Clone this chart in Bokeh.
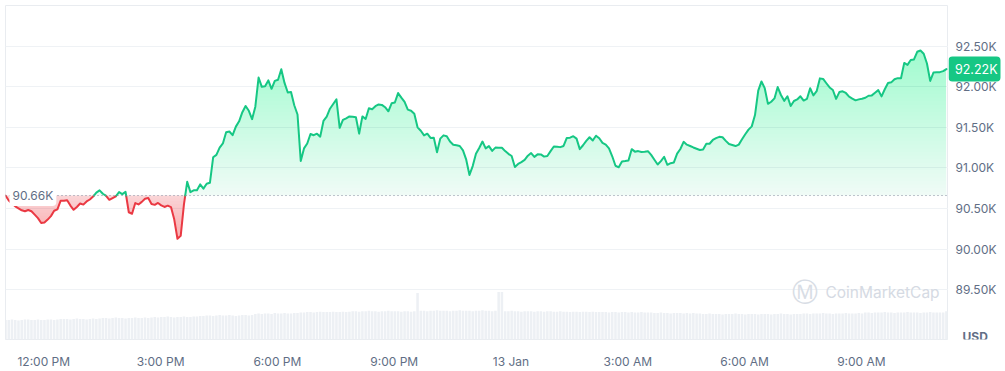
import numpy as np
from bokeh.plotting import figure
from bokeh.layouts import row
from bokeh.models import Range1d, FixedTicker, Span, Label, Grid
from bokeh.core.properties import value
from bokeh.embed import file_html
from bokeh.resources import INLINE

# ---------------- data ----------------
start_hour = 11 + 1 / 60          # 12 Jan, 11:01 (hours since 12 Jan 00:00)
step_hours = 5 / 60               # 5-minute samples
open_price = 90660
last_price = 92220

prices = [
    90660, 90599, 90563, 90527, 90502, 90478, 90466, 90482, 90466, 90424,   # 0
    90381, 90321, 90327, 90363, 90406, 90472, 90490, 90596, 90596, 90603,   # 10
    90536, 90484, 90519, 90561, 90548, 90587, 90611, 90648, 90696, 90724,   # 20
    90682, 90656, 90607, 90628, 90649, 90703, 90677, 90705, 90454, 90435,   # 30
    90567, 90550, 90582, 90621, 90630, 90555, 90545, 90568, 90538, 90519,   # 40
    90535, 90517, 90366, 90127, 90163, 90551, 90829, 90702, 90724, 90724,   # 50
    90797, 90745, 90805, 90817, 91132, 91162, 91251, 91302, 91441, 91450,   # 60
    91404, 91510, 91575, 91688, 91765, 91705, 91602, 91756, 92116, 92001,   # 70
    92009, 92080, 91976, 92074, 92088, 92218, 92049, 91931, 91937, 91774,   # 80
    91659, 91087, 91241, 91302, 91419, 91404, 91423, 91386, 91580, 91634,   # 90
    91731, 91789, 91846, 91495, 91592, 91613, 91636, 91632, 91626, 91423,   # 100
    91636, 91604, 91737, 91725, 91762, 91783, 91778, 91749, 91699, 91798,   # 110
    91808, 91924, 91867, 91814, 91719, 91706, 91668, 91501, 91459, 91402,   # 120
    91423, 91371, 91374, 91193, 91362, 91402, 91392, 91326, 91287, 91281,   # 130
    91271, 91217, 91102, 90914, 91023, 91174, 91247, 91326, 91241, 91269,   # 140
    91211, 91251, 91249, 91249, 91208, 91174, 91147, 91011, 91049, 91072,   # 150
    91099, 91151, 91184, 91137, 91168, 91167, 91140, 91148, 91207, 91265,   # 160
    91262, 91257, 91271, 91371, 91374, 91392, 91362, 91232, 91280, 91334,   # 170
    91379, 91338, 91398, 91366, 91309, 91288, 91241, 91144, 91027, 91008,   # 180
    91080, 91086, 91093, 91232, 91201, 91208, 91196, 91199, 91207, 91161,   # 190
    91102, 91042, 91084, 91138, 91039, 91059, 91068, 91177, 91234, 91322,   # 200
    91287, 91271, 91253, 91237, 91222, 91229, 91299, 91299, 91345, 91368,   # 210
    91384, 91379, 91334, 91295, 91283, 91270, 91288, 91353, 91416, 91473,   # 220
    91513, 91653, 91955, 92067, 91984, 91791, 91817, 91858, 91998, 91900,   # 230
    91828, 91885, 91765, 91826, 91845, 91884, 91831, 91851, 91983, 91895,   # 240
    91947, 92105, 92098, 92045, 91993, 91962, 91852, 91936, 91946, 91925,   # 250
    91879, 91855, 91834, 91846, 91854, 91866, 91891, 91895, 91927, 91960,   # 260
    91883, 91971, 92049, 92056, 92094, 92108, 92107, 92296, 92272, 92331,   # 270
    92339, 92433, 92449, 92409, 92288, 92074, 92177, 92180, 92182, 92194,   # 280
    92220,                                                                  # 290
]

# traded volume per 5-minute bar (USD millions)
volume = [
    40, 40, 41, 40, 39, 40, 41, 41, 40, 40, 41, 40, 40, 41, 41, 40, 41, 42,
    42, 42, 41, 42, 43, 42, 42, 41, 42, 43, 42, 43,
    44, 44, 43, 44, 45, 44, 44, 43, 44, 44, 45, 44, 44, 45, 44, 45,
    46, 45, 46, 46, 47, 46, 45, 46, 46, 47, 46, 46, 47, 47, 48,
    48, 49, 49, 48, 49, 50, 49, 49, 50, 49, 48, 49, 50, 50, 49, 50,
    52, 53, 52, 53, 53, 52, 54, 53, 53, 54, 53, 53, 54, 54, 55,
    55, 56, 56, 55, 56, 57, 56, 56, 56, 57, 56, 56, 57, 56, 57,
    58, 58, 57, 58, 58, 59, 58, 58, 57, 58, 58, 59, 58, 58, 58, 57, 58, 58, 57, 58,
    95,
    59, 59, 58, 59, 59, 60, 59, 59, 59, 58, 59, 59, 60, 59, 59, 59, 58, 59, 59, 60, 59, 59, 58, 59,
    97, 97,
    58, 58, 59, 58, 58, 57, 58, 58, 58, 57, 58, 58, 57, 58, 58, 57, 57, 58,
    57, 57, 56, 57, 57, 56, 57, 57, 56, 57, 56, 56,
    56, 56, 55, 56, 56, 55, 56, 56, 55, 56, 55, 55, 56, 55, 55, 55,
    54, 54, 55, 54, 54, 53, 54, 54, 54, 53, 54, 53, 54, 53, 53,
    52, 52, 53, 52, 52, 52, 51, 52, 52, 52, 53, 52, 52, 51, 52, 52, 52, 51, 52,
    52, 52, 51, 52, 52, 53, 52, 52, 51, 52, 52, 52,
    53, 53, 52, 53, 53, 53, 54, 53, 53, 52, 53, 53, 53, 54, 53, 53, 53, 54, 53,
    55, 55, 54, 55, 55, 55, 56, 55, 55, 54, 55, 55, 55, 56, 55, 55, 55, 54, 55, 55, 56, 55, 55, 55, 55,
    58,
]

y_ticks = [89500, 90000, 90500, 91000, 91500, 92000, 92500]
y_tick_labels = ["89.50K", "90.00K", "90.50K", "91.00K", "91.50K", "92.00K", "92.50K"]
x_ticks = [12, 15, 18, 21, 24, 27, 30, 33]
x_tick_labels = ["12:00 PM", "3:00 PM", "6:00 PM", "9:00 PM", "13 Jan",
                 "3:00 AM", "6:00 AM", "9:00 AM"]

# ---------------- styling ----------------
GREEN = "#16c784"
RED = "#ea3943"
AXIS_TEXT = "#616e85"
FONT = "Inter"

t = start_hour + np.arange(len(prices)) * step_hours
p_arr = np.array(prices, dtype=float)
vt = start_hour + np.arange(len(volume)) * step_hours

x_end = start_hour + 24.22
y_range = Range1d(88884, 93004)
fig = figure(width=948, height=371, output_backend="svg", toolbar_location=None,
             x_range=Range1d(start_hour, x_end), y_range=y_range,
             y_axis_location=None,
             min_border_left=5, min_border_right=0, min_border_top=5, min_border_bottom=25)
fig.background_fill_color = "white"
fig.border_fill_color = "white"
fig.outline_line_color = "#e9ecf0"
fig.outline_line_width = 1

fig.extra_y_ranges = {"vol": Range1d(0, 683)}

xax = fig.xaxis[0]
xax.ticker = FixedTicker(ticks=x_ticks)
xax.major_label_overrides = {k: v for k, v in zip(x_ticks, x_tick_labels)}
xax.axis_line_color = None
xax.major_tick_line_color = None
xax.minor_tick_line_color = None
xax.major_label_standoff = 8
xax.major_label_text_font = FONT
xax.major_label_text_font_size = "12px"
xax.major_label_text_color = AXIS_TEXT

fig.xgrid.grid_line_color = None
for g in fig.ygrid:
    g.grid_line_color = None
fig.add_layout(Grid(dimension=1, ticker=FixedTicker(ticks=y_ticks),
                    grid_line_color="#eff2f5", grid_line_width=1))

# volume bars
fig.vbar(x=vt, top=volume, bottom=0, width=step_hours * 0.78, y_range_name="vol",
         fill_color="#edf0f4", line_color=None)


def with_crossings(tt, pp, level):
    ot, op = [tt[0]], [pp[0]]
    for i in range(1, len(tt)):
        a, b = pp[i - 1] - level, pp[i] - level
        if a * b < 0:
            f = a / (a - b)
            ot.append(tt[i - 1] + f * (tt[i] - tt[i - 1]))
            op.append(level)
        ot.append(tt[i])
        op.append(pp[i])
    return np.array(ot), np.array(op)


# green gradient fill (above the opening price)
pmax = p_arr.max()
tt, pp = with_crossings(t, p_arr, open_price)
fig.varea(x=tt, y1=np.full(len(tt), float(open_price)), y2=np.maximum(pp, open_price),
          fill_color=GREEN, fill_alpha=0.07)
NG = 40
for k in range(1, NG):
    lvl = open_price + (pmax - open_price) * k / NG
    tt, pp = with_crossings(t, p_arr, lvl)
    fig.varea(x=tt, y1=np.full(len(tt), lvl), y2=np.maximum(pp, lvl),
              fill_color=GREEN, fill_alpha=0.0065)

# red gradient fill (below the opening price)
pmin = p_arr.min()
tt, pp = with_crossings(t, p_arr, open_price)
fig.varea(x=tt, y1=np.minimum(pp, open_price), y2=np.full(len(tt), float(open_price)),
          fill_color=RED, fill_alpha=0.22)
NR = 15
for k in range(1, NR):
    lvl = open_price - (open_price - pmin) * k / NR
    tt, pp = with_crossings(t, p_arr, lvl)
    fig.varea(x=tt, y1=np.minimum(pp, lvl), y2=np.full(len(tt), lvl),
              fill_color=RED, fill_alpha=0.015)

# opening price dotted line
fig.add_layout(Span(location=open_price, dimension="width", line_color="#808a9d",
                    line_dash="1 3", line_width=1, level="glyph"))

# price line, green above / red below the opening price
tt, pp = with_crossings(t, p_arr, open_price)
green_y = np.where(pp >= open_price, pp, np.nan)
red_y = np.where(pp <= open_price, pp, np.nan)
fig.line(tt, red_y, line_color=RED, line_width=2, line_join="round", line_cap="round")
fig.line(tt, green_y, line_color=GREEN, line_width=2, line_join="round", line_cap="round")

# labels inside the frame
fig.add_layout(Label(x=4, y=open_price, x_units="screen", y_units="data",
                     text="90.66K", text_font=FONT, text_font_size="12px",
                     text_color=AXIS_TEXT, text_baseline="middle", text_align="left",
                     background_fill_color="white", padding=3, border_radius=4))
fig.add_layout(Label(x=799.5, y=48, x_units="screen", y_units="screen", text="\u24c2",
                     text_font="DejaVu Sans", text_font_size="26px", text_color="#d8dde5",
                     text_baseline="middle", text_align="center"))
fig.add_layout(Label(x=820, y=47.5, x_units="screen", y_units="screen", text="CoinMarketCap",
                     text_font=FONT, text_font_size="15.5px", text_color="#d5dae3",
                     text_baseline="middle", text_align="left"))

# ---------------- right-hand price scale (shares the y range) ----------------
side = figure(width=57, height=371, output_backend="svg", toolbar_location=None,
              x_range=Range1d(0, 57), y_range=y_range,
              x_axis_location=None, y_axis_location=None,
              min_border_left=0, min_border_right=0, min_border_top=5, min_border_bottom=25)
side.outline_line_color = None
side.background_fill_color = "white"
side.border_fill_color = "white"
side.grid.grid_line_color = None

side.text(x=[7] * len(y_ticks), y=y_ticks, text=y_tick_labels,
          text_font=value(FONT), text_font_size=value("12px"), text_color=AXIS_TEXT,
          text_align="left", text_baseline="middle")

# current price tag
side.rect(x=[26], y=[last_price], width=52, height=25, height_units="screen",
          fill_color=GREEN, line_color=None, border_radius=4)
side.text(x=[6.5], y=[last_price], text=["92.22K"], text_font=value(FONT),
          text_font_size=value("12.5px"), text_color="white",
          text_align="left", text_baseline="middle")

# currency unit at the foot of the scale
px_per_unit = 341.0 / (y_range.end - y_range.start)
side.text(x=[14], y=[y_range.start + 3.5 / px_per_unit], text=["USD"], text_font=value(FONT),
          text_font_size=value("12px"), text_font_style="bold", text_color=AXIS_TEXT,
          text_align="left", text_baseline="middle")

layout = row(fig, side, spacing=0)
open("out.html", "w").write(file_html(layout, INLINE))
